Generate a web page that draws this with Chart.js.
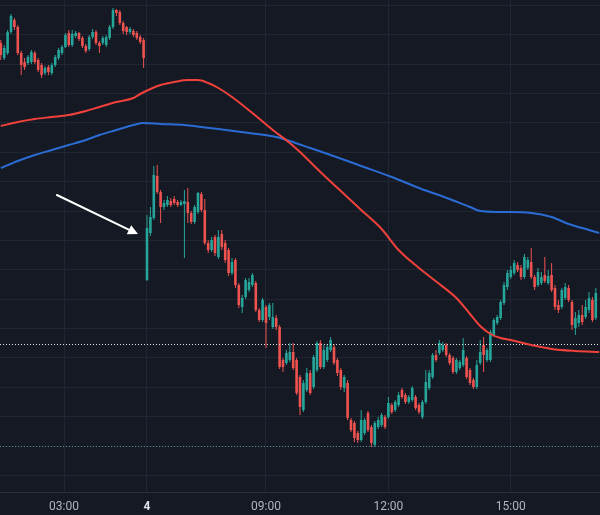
<!DOCTYPE html>
<html><head><meta charset="utf-8">
<script src="https://cdn.jsdelivr.net/npm/chart.js@4.4.1/dist/chart.umd.min.js"></script>
<style>html,body{margin:0;padding:0;background:#151924;}canvas{display:block;}</style>
</head><body>
<canvas id="c" width="600" height="515"></canvas>
<script>
// 5-minute candles, index 0..175 (price units arbitrary)
const openP = [
457,442,447,468,480,473,447,438,437,438,
447,440,435,427,433,427,435,442,447,453,
467,455,464,467,462,454,451,463,468,457,
457,455,462,473,490,488,477,473,468,469,
467,463,460,
220,267,282,324,308,293,295,
299,301,298,295,296,298,287,278,288,306,
290,257,250,263,243,266,257,250,227,240,
215,193,203,210,215,217,190,180,193,183,
173,182,173,140,137,140,148,140,123,90,
110,127,113,130,157,133,140,150,153,140,
130,112,117,80,77,67,60,67,87,73,
55,73,75,83,83,95,90,95,110,105,
98,100,103,95,83,98,112,123,145,147,
150,155,145,142,128,132,135,142,130,120,
113,137,155,140,140,165,177,182,197,213,
223,227,235,232,223,232,238,223,215,217,
225,217,225,212,195,193,202,212,198,172,
177,185,183,190,200,182];
const highP = [
460,455,470,486,482,475,449,442,445,450,
449,442,437,434,435,437,445,452,455,467,
470,470,469,468,464,456,465,471,470,459,
464,465,475,492,491,490,479,474,473,471,
469,465,462,
285,293,334,335,310,300,304,
302,304,300,300,310,312,289,295,308,308,
301,260,263,265,270,270,260,252,242,242,
217,205,222,222,227,219,192,202,195,197,
197,185,175,142,150,157,157,142,125,120,
132,130,145,159,160,155,156,163,156,142,
132,125,120,82,79,69,90,82,89,75,
79,83,87,85,103,97,100,108,112,107,
105,114,105,97,100,130,130,147,150,160,
158,157,147,144,142,140,162,144,132,122,
140,160,163,152,170,182,185,200,218,230,
234,240,238,235,246,243,252,225,232,228,
243,230,237,215,200,212,217,215,200,188,
190,195,200,208,203,212];
const lowP = [
440,440,445,466,470,445,425,430,435,436,
436,428,422,425,425,425,433,440,445,452,
453,453,462,459,452,447,449,461,455,447,
455,453,460,471,484,475,466,465,466,463,
460,456,432,
219,264,280,306,277,290,293,
293,295,293,294,242,277,276,276,286,288,
255,247,248,244,241,250,237,224,225,212,
192,187,201,208,213,188,178,178,152,180,
171,170,131,128,135,138,130,105,85,88,
108,105,111,128,131,131,138,148,135,124,
110,108,80,68,58,57,58,65,68,53,
53,71,73,71,81,86,88,93,101,96,
96,98,90,86,81,96,110,121,138,145,
148,143,135,126,126,130,133,121,115,111,
111,135,128,138,138,163,175,180,195,210,
221,225,228,220,221,230,221,210,213,215,
217,215,208,190,187,191,200,198,170,165,
173,175,181,187,178,180];
const closeP = [
445,452,468,484,473,447,435,433,443,448,
438,430,425,432,428,435,443,450,453,465,
455,466,467,461,454,449,463,468,457,454,
462,463,473,490,487,477,469,468,471,465,
462,458,442,
272,283,325,308,293,297,300,
295,297,295,298,299,287,278,293,307,290,
257,250,260,247,263,253,240,227,238,215,
195,202,220,218,225,190,180,200,177,195,
183,173,133,133,147,148,132,107,93,117,
127,107,143,157,133,150,153,160,137,127,
113,123,82,70,62,60,80,80,70,57,
77,80,85,73,97,88,98,105,103,98,
103,112,92,88,98,118,127,145,140,157,
155,145,137,128,140,138,150,123,117,113,
135,148,145,150,168,180,183,198,215,227,
230,237,230,223,243,240,223,213,228,223,
219,224,210,193,190,210,213,200,175,182,
185,178,193,202,180,207];

// moving averages read at selected candle indices
const redMaIdx = [0,5,10,15,20,25,29,34,39,41,44,47,51,55,58,61,64,68,74,80,85,88,94,100,106,112,117,123,129,134,138,141,144,147,150,156,162,169,176];
const redMaVal = [374,378,381,383,385,389,393,398,402,406,411,415,418,420,420,417,412,403,387,370,357,348,328,309,290,271,250,232,216,202,186,174,166,162,160,155,151,149,148];
const blueMaIdx = [0,5,10,15,20,25,29,34,39,42,47,54,59,64,73,81,85,91,97,106,115,123,132,138,141,147,156,162,167,173,176];
const blueMaVal = [332,339,345,350,355,360,365,370,375,377,376,375,373,371,367,363,359,352,345,334,323,312,301,293,289,288,287,283,276,270,267];

// horizontal dotted levels
const levelWhite = 155.5;
const levelTeal = 53.5;

// arrow annotation [index, price]
const arrowTail = [16.5, 305];
const arrowHead = [40.35, 266];

// time axis
const tickPos = [18.6, 43, 78, 114, 150];
const tickLabels = ['03:00', '4', '09:00', '12:00', '15:00'];

const X_MIN = -0.235, X_MAX = 176.235, Y_MIN = 8, Y_MAX = 500;
const GRID_START = 24.6, GRID_STEP = 29.37;

const UP = '#26a69a', DOWN = '#ef5350';
const idx = openP.map((_, i) => i);
const cols = idx.map(i => closeP[i] >= openP[i] ? UP : DOWN);

const bg = {
  id: 'bg',
  beforeDraw(chart) {
    const c = chart.ctx; c.save(); c.fillStyle = '#151924';
    c.fillRect(0, 0, chart.width, chart.height); c.restore();
  }
};
const arrow = {
  id: 'arrow',
  afterDatasetsDraw(chart) {
    const c = chart.ctx, xs = chart.scales.x, ys = chart.scales.y;
    const x1 = xs.getPixelForValue(arrowTail[0]), y1 = ys.getPixelForValue(arrowTail[1]);
    const x2 = xs.getPixelForValue(arrowHead[0]), y2 = ys.getPixelForValue(arrowHead[1]);
    const a = Math.atan2(y2 - y1, x2 - x1), L = 10, W = 5;
    const bx = x2 - L * Math.cos(a), by = y2 - L * Math.sin(a);
    c.save();
    c.strokeStyle = '#ffffff'; c.fillStyle = '#ffffff'; c.lineWidth = 2; c.lineCap = 'round';
    c.beginPath(); c.moveTo(x1, y1); c.lineTo(bx + 2 * Math.cos(a), by + 2 * Math.sin(a)); c.stroke();
    c.beginPath(); c.moveTo(x2, y2);
    c.lineTo(bx - W * Math.sin(a), by + W * Math.cos(a));
    c.lineTo(bx + W * Math.sin(a), by - W * Math.cos(a));
    c.closePath(); c.fill();
    c.restore();
  }
};

new Chart(document.getElementById('c'), {
  type: 'bar',
  data: {
    datasets: [
      { type: 'line', data: redMaIdx.map((k, i) => ({x: k, y: redMaVal[i]})),
        borderColor: '#f0413b', borderWidth: 2, pointRadius: 0, cubicInterpolationMode: 'monotone', order: 1 },
      { type: 'line', data: blueMaIdx.map((k, i) => ({x: k, y: blueMaVal[i]})),
        borderColor: '#2b6cd4', borderWidth: 2, pointRadius: 0, cubicInterpolationMode: 'monotone', order: 1 },
      { type: 'line', data: [{x: X_MIN, y: levelWhite}, {x: X_MAX, y: levelWhite}],
        borderColor: '#e8e8e8', borderWidth: 1, borderDash: [1, 2], pointRadius: 0, order: 2 },
      { type: 'line', data: [{x: X_MIN, y: levelTeal}, {x: X_MAX, y: levelTeal}],
        borderColor: '#4e8c88', borderWidth: 1, borderDash: [1, 2], pointRadius: 0, order: 2 },
      { type: 'bar', data: idx.map(i => ({x: i, y: [lowP[i], highP[i]]})),
        backgroundColor: cols, barThickness: 1, grouped: false, minBarLength: 1, inflateAmount: 0, borderWidth: 0, order: 4 },
      { type: 'bar', data: idx.map(i => ({x: i, y: [openP[i], closeP[i]]})),
        backgroundColor: cols, barThickness: 2.6, grouped: false, minBarLength: 1, inflateAmount: 0, borderWidth: 0, order: 3 }
    ]
  },
  options: {
    responsive: false,
    animation: false,
    events: [],
    layout: { padding: 0, autoPadding: false },
    plugins: { legend: { display: false }, tooltip: { enabled: false } },
    scales: {
      x: {
        type: 'linear', min: X_MIN, max: X_MAX, offset: false,
        grid: { color: '#222632', drawTicks: false, offset: false },
        border: { display: true, color: '#2a2e39', width: 1 },
        afterBuildTicks(s) { s.ticks = tickPos.map(v => ({value: v})); },
        afterFit(s) { s.height = 23; },
        ticks: {
          autoSkip: false, maxRotation: 0, minRotation: 0, padding: 8,
          callback: (v) => tickLabels[tickPos.indexOf(v)],
          color: (ctx) => (ctx.tick && ctx.tick.label === '4') ? '#e0e3eb' : '#b2b5be',
          font: (ctx) => ({ family: 'Roboto, "Liberation Sans", sans-serif', size: 12,
                            weight: (ctx.tick && ctx.tick.label === '4') ? 'bold' : 'normal' })
        }
      },
      y: {
        type: 'linear', min: Y_MIN, max: Y_MAX,
        grid: { color: '#222632', drawTicks: false },
        border: { display: false },
        ticks: { display: false },
        afterBuildTicks(s) {
          const t = [];
          for (let v = GRID_START; v < Y_MAX; v += GRID_STEP) t.push({value: v});
          s.ticks = t;
        }
      }
    }
  },
  plugins: [bg, arrow]
});
</script>
</body></html>
